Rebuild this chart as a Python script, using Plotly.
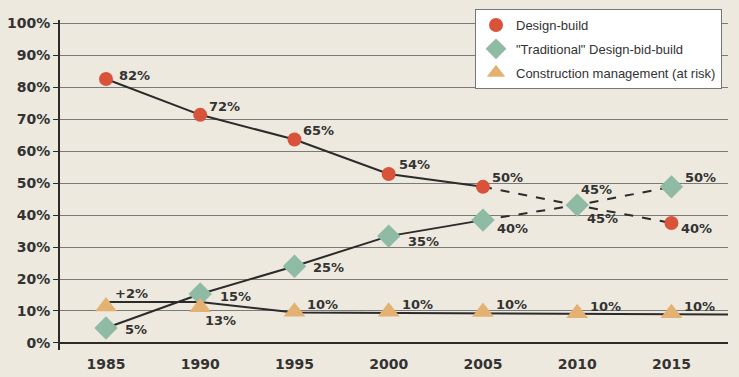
import plotly.graph_objects as go

YEARS = [1985, 1990, 1995, 2000, 2005, 2010, 2015]

DESIGN_BUILD = [82.5, 71.3, 63.6, 52.8, 48.8, 43.0, 37.5]
DESIGN_BUILD_LABELS = ["82%", "72%", "65%", "54%", "50%", "45%", "40%"]

DESIGN_BID_BUILD = [4.7, 15.3, 24.0, 33.4, 38.4, 43.1, 48.8]
DESIGN_BID_BUILD_LABELS = ["5%", "15%", "25%", "35%", "40%", "45%", "50%"]

CM_AT_RISK = [11.4, 11.2, 9.8, 9.8, 9.7, 9.3, 9.3]
CM_AT_RISK_LABELS = ["+2%", "13%", "10%", "10%", "10%", "10%", "10%"]
CM_TREND_YEARS = [1985, 1990, 1995, 2000, 2005, 2010, 2015, 2018]
CM_TREND = [12.8, 12.8, 9.5, 9.4, 9.1, 9.0, 8.9, 8.9]

Y_TICKS = list(range(0, 101, 10))
Y_TICK_TEXT = [f"{v}%" for v in Y_TICKS]

BG = "#eee9df"
INK = "#2b2b2b"
TEXT = "#333333"
RED = "#d9533b"
SAGE = "#8fbaa4"
TAN = "#e3b172"

# label offsets (px) relative to each marker: (xshift, yshift)
DB_SHIFT = [(11, 4), (7, 8), (7, 9), (8, 10), (7, 9), (8, -13), (8, -5)]
DBB_SHIFT = [(17, -2), (18, -2), (17, -1), (17, -5), (12, -8), (2, 16), (12, 9)]
CM_SHIFT = [(7, 13), (3, -13), (11, 7), (11, 7), (11, 7), (11, 7), (11, 7)]

fig = go.Figure()

solid = dict(color=INK, width=2)
dashed = dict(color=INK, width=2, dash="dash")

# trend lines: solid up to 2005, dashed projection afterwards
fig.add_trace(go.Scatter(x=CM_TREND_YEARS, y=CM_TREND, mode="lines", line=solid, showlegend=False, hoverinfo="skip"))
for series in (DESIGN_BUILD, DESIGN_BID_BUILD):
    fig.add_trace(go.Scatter(x=YEARS[:5], y=series[:5], mode="lines", line=solid, showlegend=False, hoverinfo="skip"))
    fig.add_trace(go.Scatter(x=YEARS[4:], y=series[4:], mode="lines", line=dashed, showlegend=False, hoverinfo="skip"))

fig.add_trace(go.Scatter(x=YEARS, y=DESIGN_BUILD, mode="markers", name="Design-build", legendgroup="a",
                         marker=dict(symbol="circle", size=14, color=RED)))
fig.add_trace(go.Scatter(x=YEARS, y=DESIGN_BID_BUILD, mode="markers", name="\"Traditional\" Design-bid-build",
                         legendgroup="b", marker=dict(symbol="diamond", size=18, color=SAGE)))
fig.add_trace(go.Scatter(x=YEARS, y=CM_AT_RISK, mode="markers", name="Construction management (at risk)",
                         legendgroup="c", marker=dict(symbol="triangle-up", size=19, color=TAN)))

label_font = dict(family="DejaVu Sans", size=13, color=TEXT, weight="bold")
for series, labels, shifts in ((DESIGN_BUILD, DESIGN_BUILD_LABELS, DB_SHIFT),
                               (DESIGN_BID_BUILD, DESIGN_BID_BUILD_LABELS, DBB_SHIFT),
                               (CM_AT_RISK, CM_AT_RISK_LABELS, CM_SHIFT)):
    for x, y, txt, (dx, dy) in zip(YEARS, series, labels, shifts):
        fig.add_annotation(x=x, y=y, text=txt, showarrow=False, xanchor="left", yanchor="middle",
                           xshift=dx, yshift=dy, font=label_font)

fig.update_layout(
    width=739, height=377,
    paper_bgcolor=BG, plot_bgcolor=BG,
    margin=dict(l=60, r=11, t=20, b=27, autoexpand=False),
    showlegend=True,
    legend=dict(xref="container", yref="container", x=475 / 739, y=1 - 9 / 377,
                xanchor="left", yanchor="top", bgcolor="white",
                bordercolor="#777777", borderwidth=1,
                traceorder="grouped", tracegroupgap=4,
                font=dict(family="Liberation Sans", size=13, color=TEXT)),
)
fig.update_xaxes(range=[1982.56, 2018.0], tickvals=YEARS, showgrid=False, zeroline=False,
                 showline=False, ticks="outside", ticklen=1, tickcolor="rgba(0,0,0,0)",
                 tickfont=dict(family="DejaVu Sans", size=14, color=TEXT, weight="bold"))
fig.update_yaxes(range=[-2.19, 100.94], tickvals=Y_TICKS, ticktext=Y_TICK_TEXT,
                 showgrid=True, gridcolor="#7a7a7a", gridwidth=1.3,
                 zeroline=True, zerolinecolor=INK, zerolinewidth=2,
                 showline=True, linecolor=INK, linewidth=2,
                 ticks="outside", ticklen=5, tickcolor=INK,
                 tickfont=dict(family="DejaVu Sans", size=14, color=TEXT, weight="bold"))

fig.write_html("out.html", config={"displayModeBar": False},
               post_script="document.body.style.margin = '0';")
